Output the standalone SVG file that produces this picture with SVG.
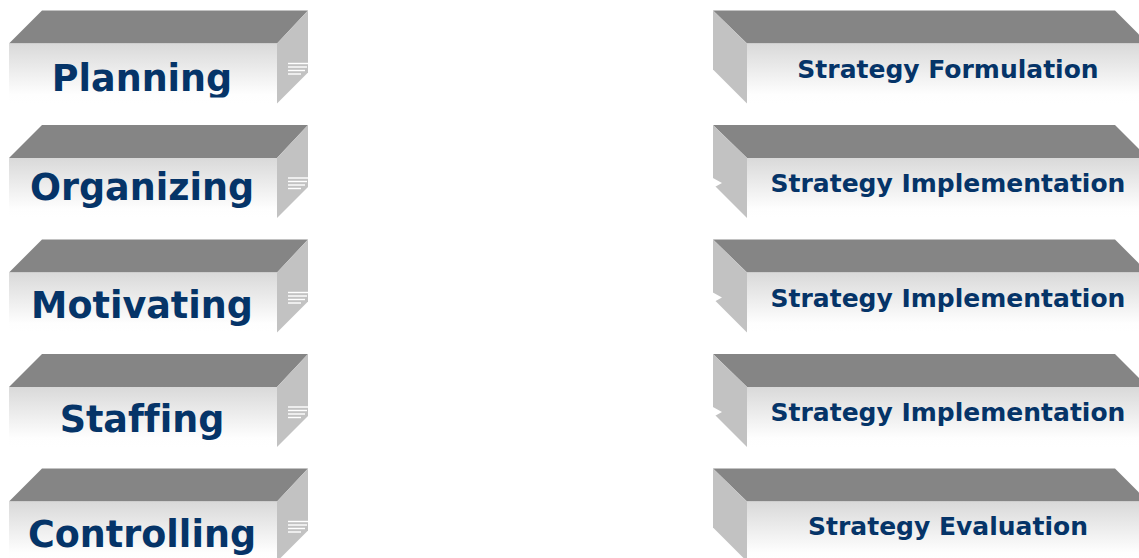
<svg xmlns="http://www.w3.org/2000/svg" width="1139" height="558" viewBox="0 0 1139 558">
<style>
.top{fill:#858585}
.side{fill:#c2c2c2}
.front{fill:url(#fg)}
.ln{stroke:#ffffff;stroke-width:1.4}
.notch{fill:#ffffff}
.lt{font-family:"DejaVu Sans",Verdana,sans-serif;font-weight:bold;font-size:36.5px;fill:#053468;text-anchor:middle;font-variant-ligatures:none}
.rt{font-family:"DejaVu Sans",Verdana,sans-serif;font-weight:bold;font-size:25px;fill:#053468;text-anchor:middle;font-variant-ligatures:none}
</style>
<defs>
<linearGradient id="fg" x1="0" y1="0" x2="0" y2="1">
<stop offset="0" stop-color="#d9d9d9"/>
<stop offset="0.85" stop-color="#fefefe"/>
<stop offset="1" stop-color="#ffffff"/>
</linearGradient>
<clipPath id="lc" clipPathUnits="userSpaceOnUse"><rect x="0" y="33" width="330" height="54"/></clipPath>
<g id="lbox">
<polygon class="top" points="9,33 42,0 308,0 277,33"/>
<polygon class="side" points="277,33 308,0 308,62 277,93"/>
<rect class="front" x="9" y="33" width="268" height="60"/>
<line class="ln" x1="288" y1="53" x2="308" y2="53"/>
<line class="ln" x1="288" y1="56.5" x2="307" y2="56.5"/>
<line class="ln" x1="288" y1="60" x2="305" y2="60"/>
<line class="ln" x1="288" y1="63.5" x2="301" y2="63.5"/>
</g>
<g id="rbox">
<polygon class="top" points="713,0 1115,0 1148,33 747,33"/>
<polygon class="side" points="713,0 747,33 747,93 713,59"/>
<rect class="front" x="747" y="33" width="400" height="60"/>
</g>
</defs>
<g id="connectors"/>
<g id="planning" transform="translate(0,10.5)">
<use href="#lbox"/>
<text class="lt" x="142" y="80" clip-path="url(#lc)">Planning</text>
</g>
<g id="organizing" transform="translate(0,125)">
<use href="#lbox"/>
<text class="lt" x="142" y="75" clip-path="url(#lc)">Organizing</text>
</g>
<g id="motivating" transform="translate(0,239.5)">
<use href="#lbox"/>
<text class="lt" x="142" y="78" clip-path="url(#lc)">Motivating</text>
</g>
<g id="staffing" transform="translate(0,354)">
<use href="#lbox"/>
<text class="lt" x="142" y="78" clip-path="url(#lc)">Staffing</text>
</g>
<g id="controlling" transform="translate(0,468.5)">
<use href="#lbox"/>
<text class="lt" x="142" y="78" clip-path="url(#lc)">Controlling</text>
</g>
<g id="strategy-formulation" transform="translate(0,10.5)">
<use href="#rbox"/>
<text class="rt" x="948" y="67">Strategy Formulation</text>
</g>
<g id="strategy-implementation-1" transform="translate(0,125)">
<use href="#rbox"/>
<polygon class="notch" points="712,52.5 722,58 712,63.5"/>
<text class="rt" x="948" y="67">Strategy Implementation</text>
</g>
<g id="strategy-implementation-2" transform="translate(0,239.5)">
<use href="#rbox"/>
<polygon class="notch" points="712,52.5 722,58 712,63.5"/>
<text class="rt" x="948" y="67">Strategy Implementation</text>
</g>
<g id="strategy-implementation-3" transform="translate(0,354)">
<use href="#rbox"/>
<polygon class="notch" points="712,52.5 722,58 712,63.5"/>
<text class="rt" x="948" y="67">Strategy Implementation</text>
</g>
<g id="strategy-evaluation" transform="translate(0,468.5)">
<use href="#rbox"/>
<text class="rt" x="948" y="66">Strategy Evaluation</text>
</g>
</svg>
